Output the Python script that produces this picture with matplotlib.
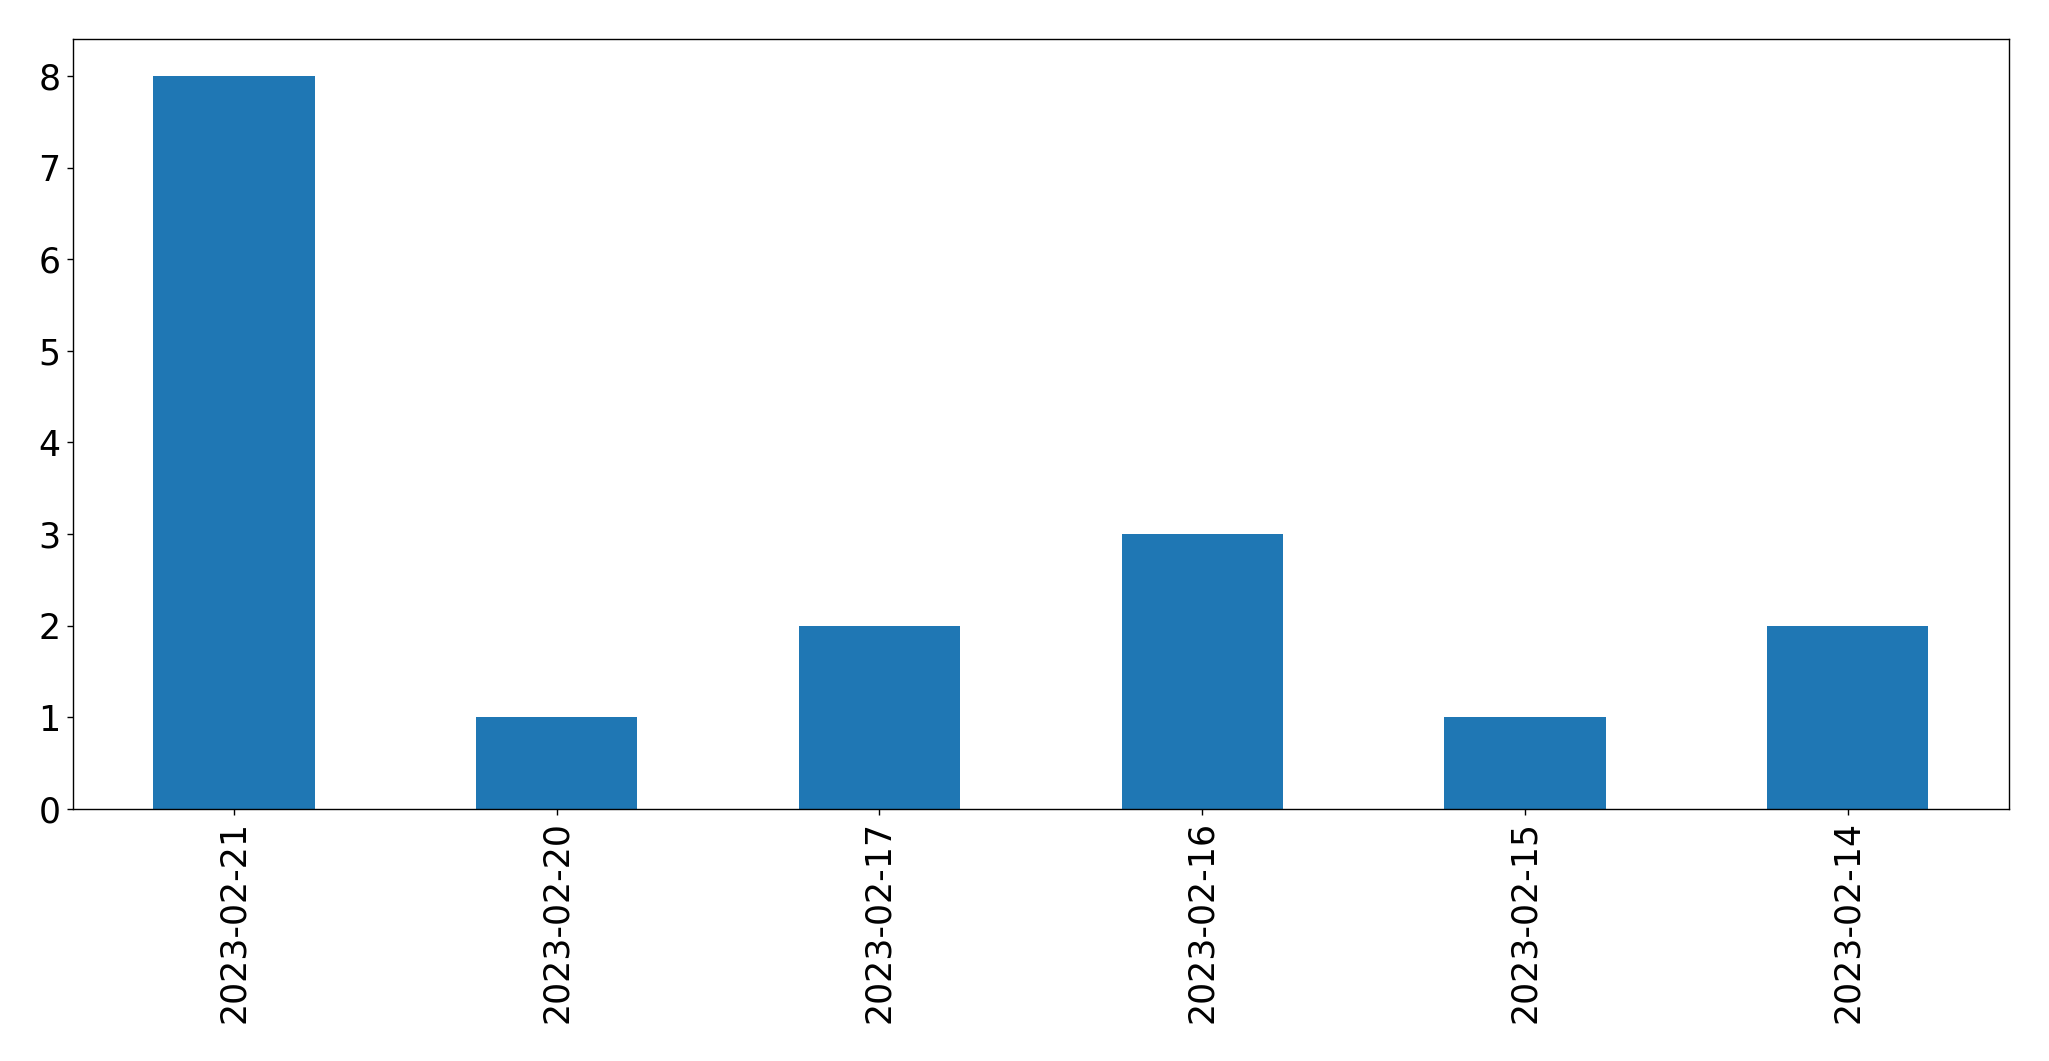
import matplotlib
matplotlib.use('Agg')
import matplotlib.pyplot as plt
import pandas as pd

dates = ['2023-02-21', '2023-02-20', '2023-02-17', '2023-02-16', '2023-02-15', '2023-02-14']
counts = [8, 1, 2, 3, 1, 2]

W, H = 2049, 1061
fig = plt.figure(figsize=(W / 100, H / 100), dpi=100)
ax = fig.add_axes([72.7 / W, 1 - 809 / H, (2009 - 72.7) / W, (809 - 39.3) / H])

series = pd.Series(counts, index=dates)
series.plot(kind='bar', ax=ax, color='#1f77b4', fontsize=25)

for s in ax.spines.values():
    s.set_linewidth(1.0)
ax.tick_params(length=4.4, width=1.0, pad=4.4)

fig.savefig('out.png', dpi=100)
